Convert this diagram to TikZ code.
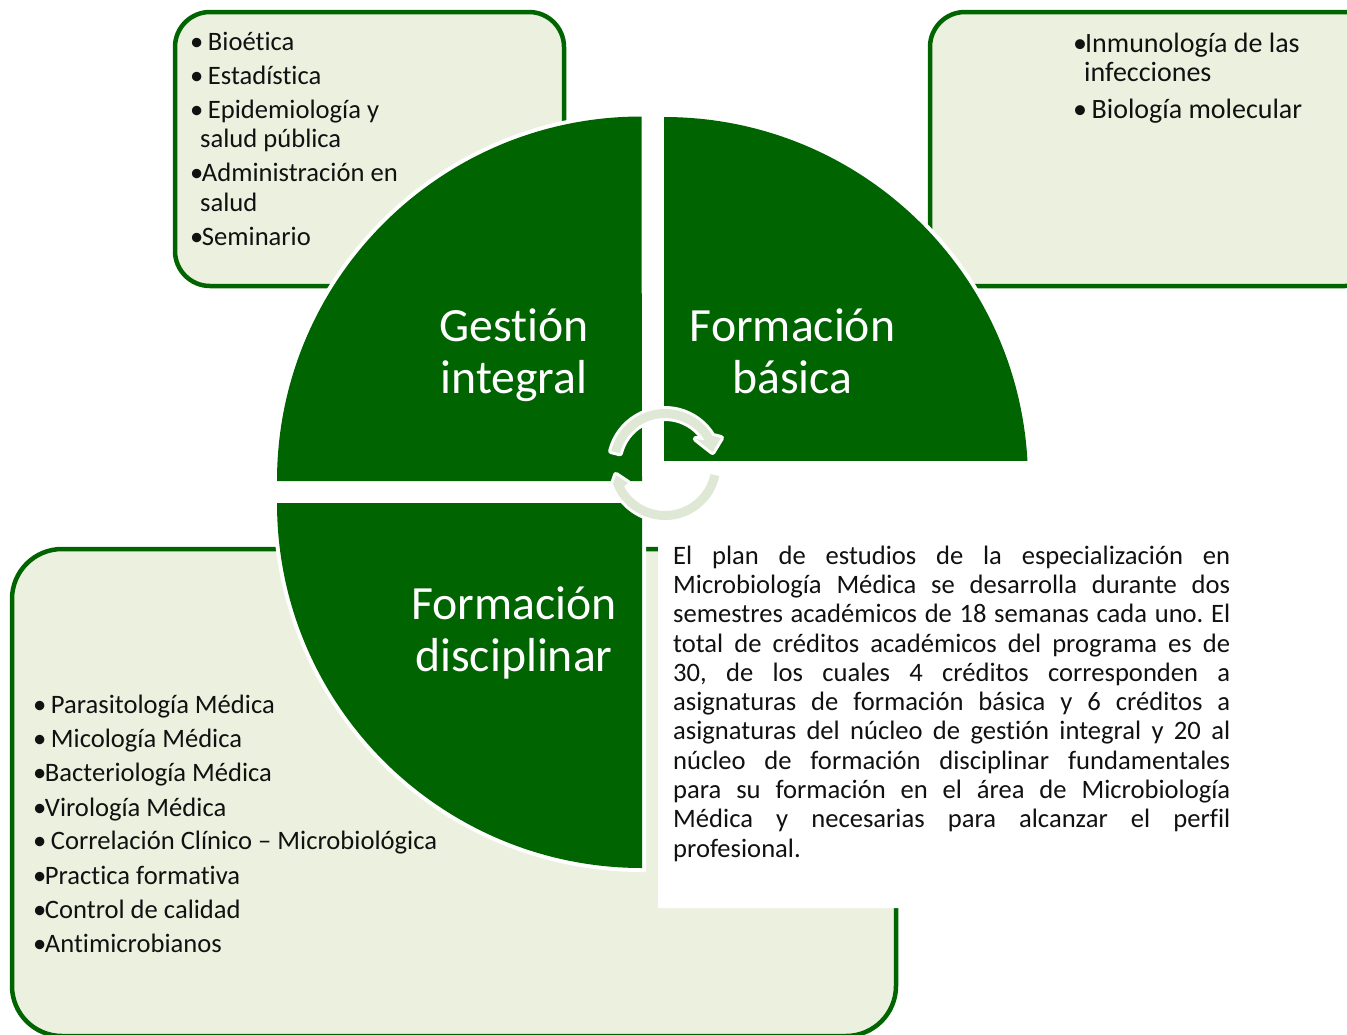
\documentclass[tikz,border=0pt]{standalone}
\usepackage{fontspec}
\setmainfont{Carlito}[Ligatures=NoCommon]
\usetikzlibrary{calc}
\definecolor{dk}{HTML}{006400}
\definecolor{pale}{HTML}{ECF0DF}
\definecolor{arrowc}{HTML}{DFE7D5}
\definecolor{ink}{HTML}{111111}
\tikzset{
  panel/.style={draw=dk,fill=pale,line width=4.5pt},
  pie/.style={fill=dk,preaction={draw=white,line width=8pt}},
  item/.style={anchor=base west,inner sep=0pt,text=ink,font=\fontsize{26.6}{29}\selectfont},
  itemb/.style={item,font=\fontsize{28}{29}\selectfont},
  title/.style={anchor=base,inner sep=0pt,text=white,font=\fontsize{47.7}{52}\selectfont},
  cyc/.style={fill=arrowc,preaction={draw=white,line width=6pt,line join=round}},
}
\newcommand{\tightb}{•\kern-1.5pt}
\newcommand{\wideb}{•\hspace{4.5pt}}
\begin{document}
\frenchspacing
\begin{tikzpicture}[x=1pt,y=-1pt]
\useasboundingbox (0,0) rectangle (1347,1034);
\clip (0,0) rectangle (1347,1034);
% panels
\draw[panel,rounded corners=35pt] (175,12) rectangle (564,286);
\draw[panel,rounded corners=35pt] (930,12) rectangle (1380,286);
\draw[panel,rounded corners=50pt] (12,549) rectangle (896,1036);
% quarter discs
\path[pie] (642,481) -- (277,481) arc[start angle=180,end angle=90,radius=364.5pt] -- cycle;
\path[pie] (664,481) -- (664,117) arc[start angle=90,end angle=0,radius=364pt] -- cycle;
\path[pie] (642,503) -- (642,868) arc[start angle=270,end angle=180,radius=365pt] -- cycle;
% white text panel
\fill[white,rounded corners=1pt] (658,461) rectangle (1347,908);
% cycle arrows
\coordinate (C) at (665,464.5);
\path[cyc] ($(C)+(166:55.5pt)$) arc[start angle=166,end angle=31,radius=55.5pt]
  -- (721,438) -- (712.5,452) -- (696,439)
  -- ($(C)+(31:46.5pt)$) arc[start angle=31,end angle=166,radius=46.5pt] -- cycle;
\path[cyc] ($(C)+(-12:55.5pt)$) arc[start angle=-12,end angle=-152,radius=55.5pt]
  -- (613,484) -- (616,475) -- (628,483)
  -- ($(C)+(-152:46.5pt)$) arc[start angle=-152,end angle=-12,radius=46.5pt] -- cycle;
% titles
\node[title] (t1a) at (514,341) {Gestión};
\node[title] (t1b) at (514,393) {integral};
\node[title] (t2a) at (792.5,341) {Formación};
\node[title] (t2b) at (792.5,393) {básica};
\node[title] (t3a) at (514,619) {Formación};
\node[title] (t3b) at (514,671) {disciplinar};
% top left list
\node[item] (a1) at (190,50) {\wideb Bioética};
\node[item] (a2) at (190,84) {\wideb Estadística};
\node[item] (a3) at (190,118) {\wideb Epidemiología y};
\node[item] (a3b) at (200,147) {salud pública};
\node[item] (a4) at (190,181) {\tightb Administración en};
\node[item] (a4b) at (200,211) {salud};
\node[item] (a5) at (190,245) {\tightb Seminario};
% top right list
\node[itemb] (b1) at (1073,52) {•\kern-2pt Inmunología de las};
\node[itemb] (b1b) at (1084,81) {infecciones};
\node[itemb] (b2) at (1073,118) {•\hspace{4.5pt}Biología molecular};
% bottom left list
\node[item] (c1) at (33,713) {\wideb Parasitología Médica};
\node[item] (c2) at (33,747) {\wideb Micología Médica};
\node[item] (c3) at (33,781) {\tightb Bacteriología Médica};
\node[item] (c4) at (33,816) {\tightb Virología Médica};
\node[item] (c5) at (33,849) {\wideb Correlación Clínico – Microbiológica};
\node[item] (c6) at (33,884) {\tightb Practica formativa};
\node[item] (c7) at (33,918) {\tightb Control de calidad};
\node[item] (c8) at (33,952) {\tightb Antimicrobianos};
% paragraph
\node[anchor=north west,inner sep=0pt,text width=557pt,align=justify,text=ink,
  font=\fontsize{26.6}{29.3}\selectfont] (p) at (673,545.5) {El plan de estudios de la especialización en\linebreak
Microbiología Médica se desarrolla durante dos\linebreak
semestres académicos de 18 semanas cada uno. El\linebreak
total de créditos académicos del programa es de\linebreak
30, de los cuales 4 créditos corresponden a\linebreak
asignaturas de formación básica y 6 créditos a\linebreak
asignaturas del núcleo de gestión integral y 20 al\linebreak
núcleo de formación disciplinar fundamentales\linebreak
para su formación en el área de Microbiología\linebreak
Médica y necesarias para alcanzar el perfil\linebreak
profesional.};
\end{tikzpicture}
\end{document}
